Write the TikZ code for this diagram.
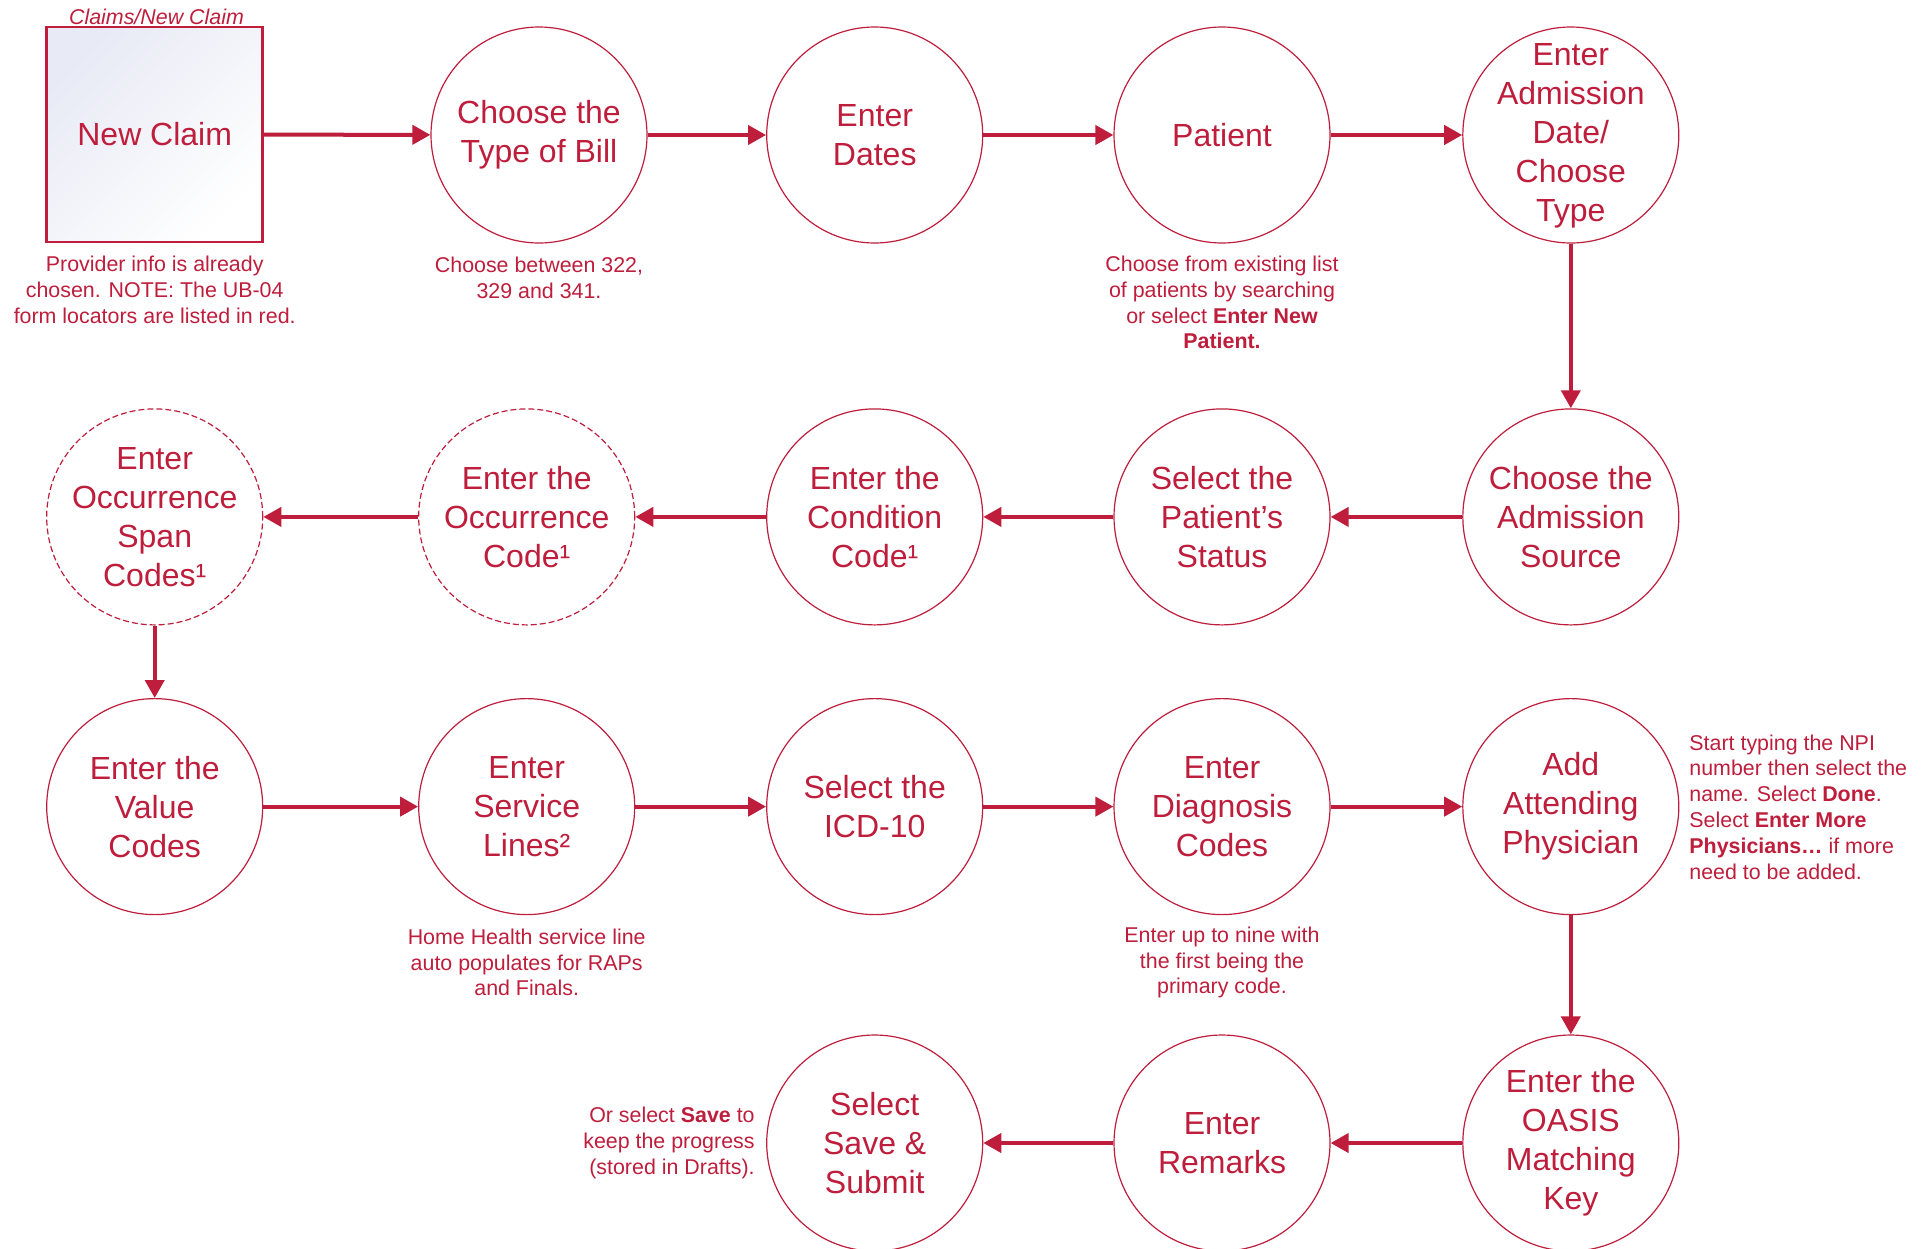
\documentclass[tikz,border=0pt]{standalone}
\usepackage{fontspec}
\setmainfont{Liberation Sans}
\usetikzlibrary{arrows.meta}
\definecolor{crim}{RGB}{190,30,60}
\definecolor{lav}{RGB}{232,234,245}
\begin{document}
\begin{tikzpicture}[x=0.5pt,y=-0.5pt,
  stepc/.style={circle,draw=crim,line width=0.6pt,minimum size=108pt,inner sep=0pt,align=center,text=crim,font=\fontsize{16}{19.5}\selectfont},
  dashc/.style={stepc,dash pattern=on 3pt off 1.5pt},
  inner/.style={align=center,text=crim,inner sep=0pt,font=\fontsize{16}{19.5}\selectfont},
  startbox/.style={rectangle,draw=crim,line width=1.3pt,minimum width=108pt,minimum height=107.5pt,inner sep=0pt,text=crim,font=\fontsize{16}{19.5}\selectfont,top color=lav,bottom color=white,shading angle=45},
  note/.style={text=crim,font=\fontsize{10.7}{12.9}\selectfont,align=center,inner sep=0pt},
  flow/.style={draw=crim,line width=2pt,-{Triangle[length=9pt,width=9.5pt]}},
]
\useasboundingbox (0,0) rectangle (1925,1248);
\fill[white] (0,0) rectangle (1925,1248);

% Row 1
\node[startbox] (nc) at (154.7,134.5) {New Claim};
\node[text=crim,font=\fontsize{10.7}{12.9}\selectfont\itshape,inner sep=0pt] (lbl) at (156.5,17) {Claims/New Claim};
\node[stepc] (tob) at (539,135) {Choose the\\Type of Bill};
\node[stepc] (dates) at (874.7,135) {Enter\\Dates};
\node[stepc] (pat) at (1222,135) {Patient};
\node[stepc,label={[inner,yshift=-0.5pt]center:Enter\\Admission\\Date/\\Choose\\Type}] (adm) at (1570.8,135) {};

% Row 2
\node[stepc] (src) at (1570.8,516.9) {Choose the\\Admission\\Source};
\node[stepc] (stat) at (1222,516.9) {Select the\\Patient’s\\Status};
\node[stepc] (cond) at (874.7,516.9) {Enter the\\Condition\\Code¹};
\node[dashc] (occ) at (526.7,516.9) {Enter the\\Occurrence\\Code¹};
\node[dashc] (span) at (154.7,516.9) {Enter\\Occurrence\\Span\\Codes¹};

% Row 3
\node[stepc] (val) at (154.7,806.6) {Enter the\\Value\\Codes};
\node[stepc] (svc) at (526.7,806.6) {Enter\\Service\\Lines²};
\node[stepc] (icd) at (874.7,806.6) {Select the\\ICD-10};
\node[stepc] (diag) at (1222,806.6) {Enter\\Diagnosis\\Codes};
\node[stepc] (phys) at (1570.8,806.6) {Add\\Attending\\Physician};

% Row 4
\node[stepc] (oasis) at (1570.8,1143) {Enter the\\OASIS\\Matching\\Key};
\node[stepc] (rem) at (1222,1143) {Enter\\Remarks};
\node[stepc] (save) at (874.7,1143) {Select\\Save \&\\Submit};

% Notes
\node[note] (n1) at (154.7,289.7) {Provider info is already\\chosen. NOTE: The UB-04\\form locators are listed in red.};
\node[note] (n2) at (539,278) {Choose between 322,\\329 and 341.};
\node[note] (n3) at (1222,302.6) {Choose from existing list\\of patients by searching\\or select \textbf{Enter New}\\\textbf{Patient.}};
\node[note,align=left,anchor=west] (n4) at (1689,807) {Start typing the NPI\\number then select the\\name. Select \textbf{Done}.\\Select \textbf{Enter More}\\\textbf{Physicians…} if more\\need to be added.};
\node[note] (n5) at (526.7,962.5) {Home Health service line\\auto populates for RAPs\\and Finals.};
\node[note] (n6) at (1222,962.5) {Enter up to nine with\\the first being the\\primary code.};
\node[note,align=right,anchor=east] (n7) at (755,1143) {Or select \textbf{Save} to\\keep the progress\\(stored in Drafts).};

% Connectors
\draw[flow] (nc) -- (tob);
\draw[flow] (tob) -- (dates);
\draw[flow] (dates) -- (pat);
\draw[flow] (pat) -- (adm);
\draw[flow] (adm) -- (src);
\draw[flow] (src) -- (stat);
\draw[flow] (stat) -- (cond);
\draw[flow] (cond) -- (occ);
\draw[flow] (occ) -- (span);
\draw[flow] (span) -- (val);
\draw[flow] (val) -- (svc);
\draw[flow] (svc) -- (icd);
\draw[flow] (icd) -- (diag);
\draw[flow] (diag) -- (phys);
\draw[flow] (phys) -- (oasis);
\draw[flow] (oasis) -- (rem);
\draw[flow] (rem) -- (save);
\end{tikzpicture}
\end{document}
